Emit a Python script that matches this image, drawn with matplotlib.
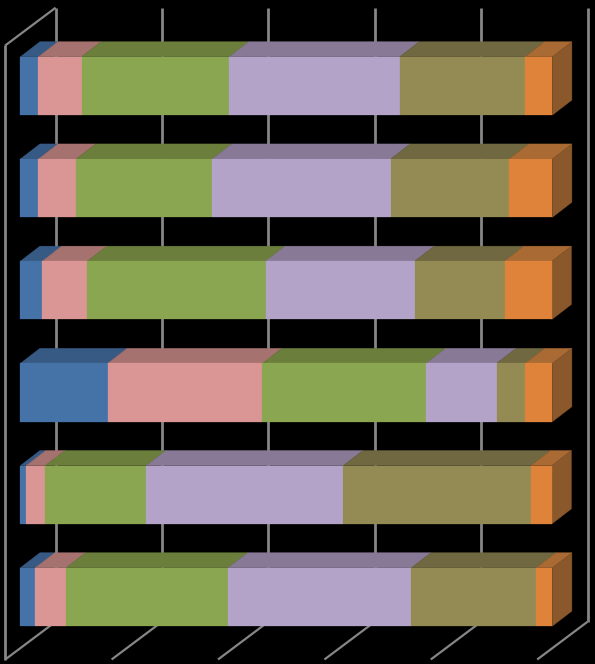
import numpy as np
import matplotlib
matplotlib.use("Agg")
import matplotlib.pyplot as plt
from matplotlib.ticker import NullLocator

# Values (percent share per row, top to bottom)
series_a = [3.4, 3.4, 4.1, 16.4, 1.1, 2.8]
series_b = [8.1, 7.1, 8.5, 29.1, 3.6, 5.8]
series_c = [27.8, 25.6, 33.5, 30.8, 19.0, 30.5]
series_d = [32.0, 33.5, 28.0, 13.2, 37.0, 34.4]
series_e = [23.6, 22.3, 16.9, 5.4, 35.3, 23.5]
series_f = [5.1, 8.1, 8.9, 5.1, 3.9, 3.0]
categories = [0, 1, 2, 3, 4, 5]
ticks = [0, 20, 40, 60, 80, 100]

series = [series_a, series_b, series_c, series_d, series_e, series_f]
front_colors = ["#4572A7", "#D99694", "#8BA650", "#B4A3C9", "#948A54", "#DF833B"]
top_colors = ["#375A85", "#A57270", "#6B7E3C", "#887A97", "#706840", "#A96A33"]
side_color = "#8A582B"
grid_color = "#868686"

W, H = 595, 664
PX_X = 5.32     # pixels per percent
PX_Y = 102.2    # pixels per category
X0_PX, Y0_PX = 20.4, 85.9
BAR_H = 58.3 / PX_Y
DX, DY = 19.5 / PX_X, 15 / PX_Y            # bar depth
WALL_F, WALL_B = -15.2 / PX_X, 35.2 / PX_X  # front / back plane offset
WALL_TOP = (7.7 - Y0_PX) / PX_Y
WALL_BOTTOM = (621.7 - Y0_PX) / PX_Y
WALL_DY = 37.8 / PX_Y

fig = plt.figure(figsize=(W / 100, H / 100), dpi=100, facecolor="black")
ax = fig.add_axes([0, 0, 1, 1], facecolor="black")
ax.set_xlim(-X0_PX / PX_X, (W - X0_PX) / PX_X)
ax.set_ylim((H - Y0_PX) / PX_Y, -Y0_PX / PX_Y)
ax.xaxis.set_major_locator(NullLocator())
ax.yaxis.set_major_locator(NullLocator())
for s in ax.spines.values():
    s.set_visible(False)

line = dict(color=grid_color, lw=2.0, solid_capstyle="butt", zorder=1)
thin = dict(color=grid_color, lw=1.6, solid_capstyle="butt", zorder=1)
# back wall gridlines
for t in ticks:
    ax.plot([t + WALL_B, t + WALL_B], [WALL_TOP, WALL_BOTTOM], **line)
# floor lines
for t in ticks:
    ax.plot([t + WALL_F, t + WALL_B], [WALL_BOTTOM + WALL_DY, WALL_BOTTOM], **thin)
# left wall
lft = ticks[0]
ax.plot([lft + WALL_F, lft + WALL_F], [WALL_TOP + WALL_DY, WALL_BOTTOM + WALL_DY], **line)
ax.plot([lft + WALL_F, lft + WALL_B], [WALL_TOP + WALL_DY, WALL_TOP], **thin)

# bars
for i, cat in enumerate(categories):
    left = 0.0
    top = cat - BAR_H / 2
    bottom = cat + BAR_H / 2
    for vals, fc, tc in zip(series, front_colors, top_colors):
        v = vals[i]
        ax.fill([left, left + v, left + v + DX, left + DX],
                [top, top, top - DY, top - DY],
                facecolor=tc, edgecolor=tc, lw=0.3, zorder=2)
        ax.barh(cat, v, left=left, height=BAR_H, color=fc, edgecolor=fc, lw=0.2, zorder=3)
        left += v
    ax.fill([left, left + DX, left + DX, left],
            [top, top - DY, bottom - DY, bottom],
            facecolor=side_color, edgecolor=side_color, lw=0.3, zorder=2.5)

fig.savefig("out.png", dpi=100, facecolor="black")
